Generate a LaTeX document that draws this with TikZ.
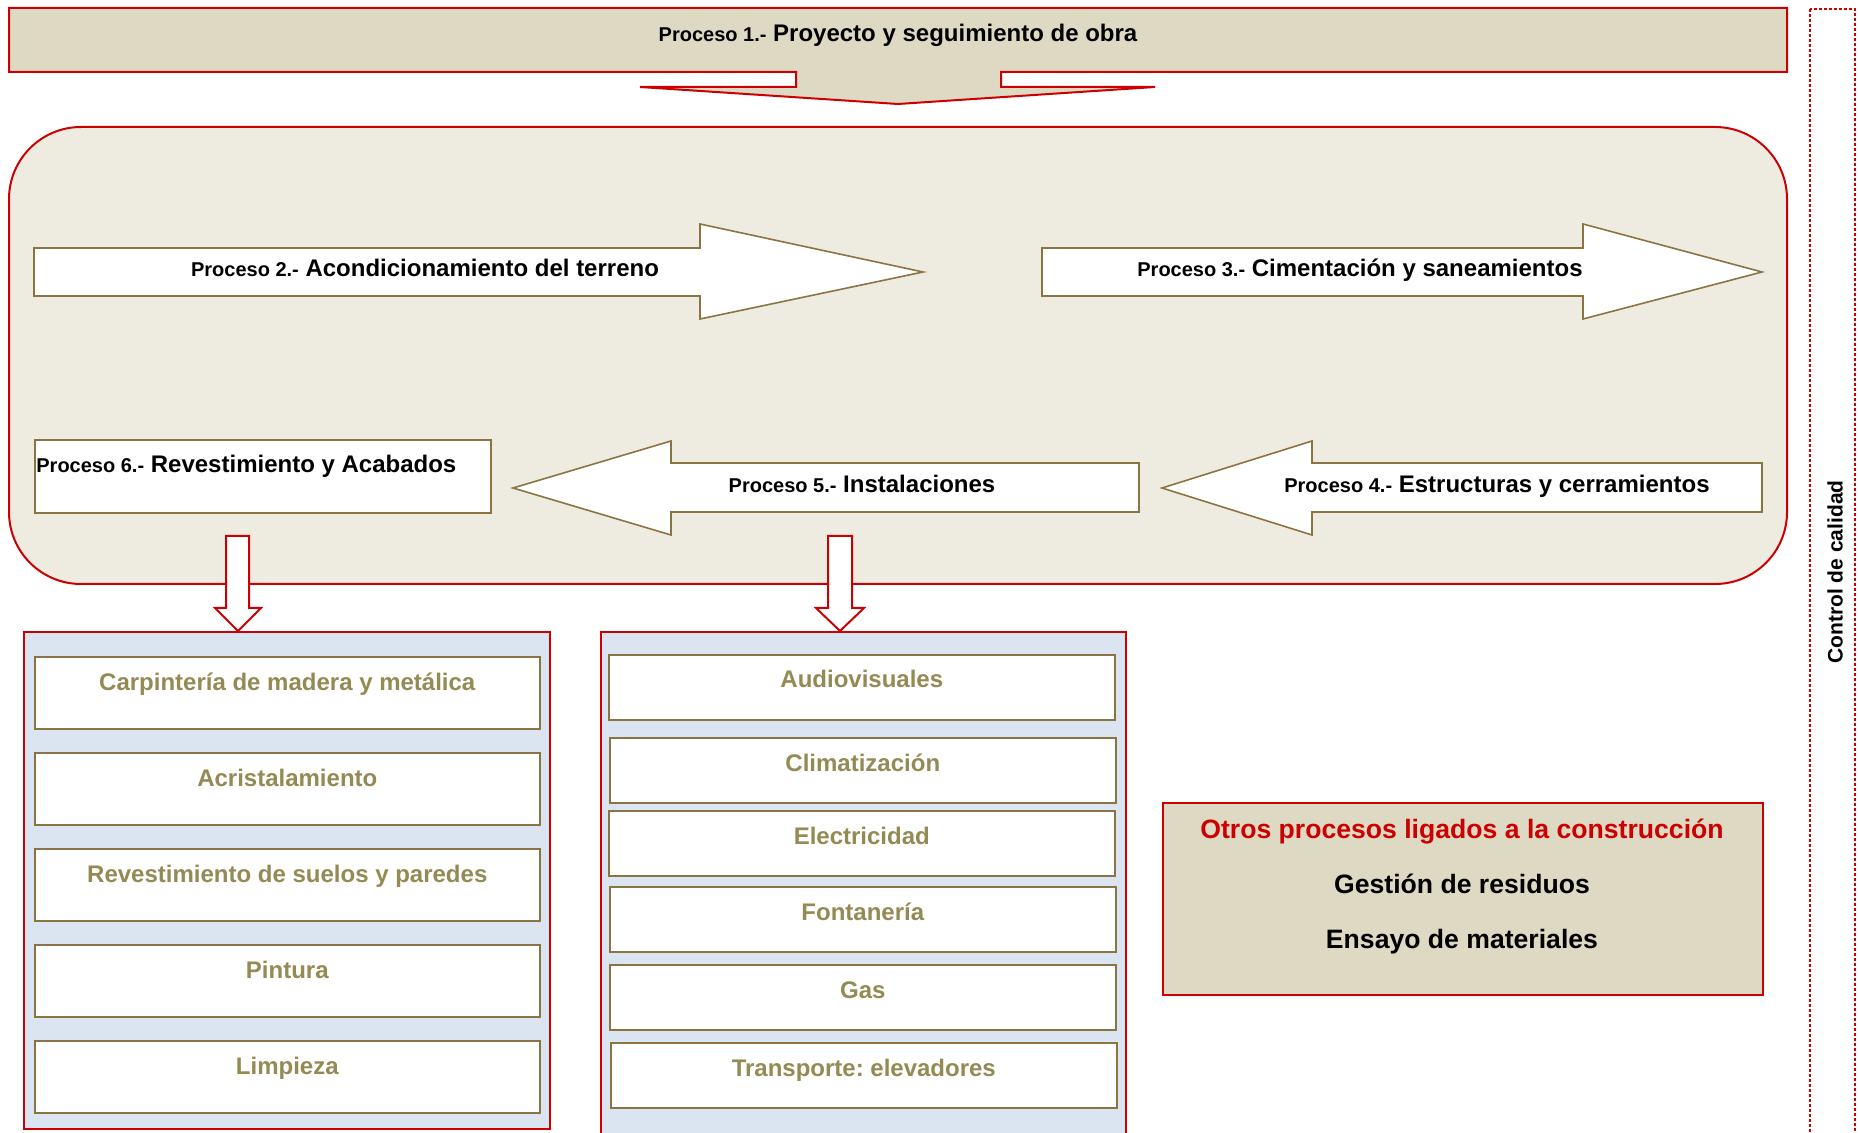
\documentclass[tikz,border=0pt]{standalone}
\usepackage{fontspec}
\setmainfont{Liberation Sans}
\usetikzlibrary{positioning}
\frenchspacing

\definecolor{redline}{RGB}{204,0,0}
\definecolor{tanfill}{RGB}{221,217,195}
\definecolor{panelfill}{RGB}{238,236,225}
\definecolor{listfill}{RGB}{219,229,241}
\definecolor{brownline}{RGB}{140,116,66}
\definecolor{olivetext}{RGB}{148,138,84}

\newcommand{\proclabel}[2]{{\fontsize{10}{12}\selectfont Proceso #1.-} #2}

\tikzset{
  tanshape/.style={draw=redline, fill=tanfill, line width=1pt},
  panelshape/.style={draw=redline, fill=panelfill, line width=1pt, rounded corners=36pt},
  listshape/.style={draw=redline, fill=listfill, line width=1pt},
  procarrow/.style={draw=brownline, fill=white, line width=0.8pt},
  downarrow/.style={draw=redline, fill=white, line width=1pt},
  proctext/.style={font=\bfseries\fontsize{12}{14}\selectfont, inner sep=0pt, anchor=base},
  itembox/.style={draw=brownline, fill=white, line width=0.8pt, anchor=north west, inner sep=0pt},
  itemtext/.style={font=\bfseries\fontsize{12}{14}\selectfont, text=olivetext, inner sep=0pt, anchor=base},
  othertext/.style={font=\bfseries\fontsize{13.3}{16}\selectfont, inner sep=0pt, anchor=base},
  qualityline/.style={draw=redline, line width=0.8pt, dash pattern=on 1.5pt off 1pt}
}

\begin{document}
\begin{tikzpicture}[x=0.5pt, y=-0.5pt]
\useasboundingbox (0,0) rectangle (1858,1133);

% proceso 1 with its arrow
\draw[tanshape] (9,8) -- (1787,8) -- (1787,72) -- (1001,72) -- (1001,87) -- (1155,87)
  -- (898,104) -- (640,87) -- (796,87) -- (796,72) -- (9,72) -- cycle;
\node[proctext] (p1) at (898,42) {\proclabel{1}{Proyecto y seguimiento de obra}};

% main panel
\draw[panelshape] (9,127) rectangle (1787,584);

\draw[procarrow] (34,248) -- (700,248) -- (700,224) -- (923,272) -- (700,319) -- (700,296) -- (34,296) -- cycle;
\node[proctext] (p2) at (425,277) {\proclabel{2}{Acondicionamiento del terreno}};

\draw[procarrow] (1042,248) -- (1583,248) -- (1583,224) -- (1762,272) -- (1583,319) -- (1583,296) -- (1042,296) -- cycle;
\node[proctext] (p3) at (1360,277) {\proclabel{3}{Cimentación y saneamientos}};

\draw[procarrow] (1762,463) -- (1312,463) -- (1312,441) -- (1162,488) -- (1312,535) -- (1312,512) -- (1762,512) -- cycle;
\node[proctext] (p4) at (1497,493) {\proclabel{4}{Estructuras y cerramientos}};

\draw[procarrow] (1139,463) -- (671,463) -- (671,441) -- (513,488) -- (671,535) -- (671,512) -- (1139,512) -- cycle;
\node[proctext] (p5) at (862,493) {\proclabel{5}{Instalaciones}};

\node[itembox, minimum width=228pt, minimum height=36.5pt] (p6box) at (34,439) {};
\node[proctext, anchor=base west] (p6) at (36,473) {\proclabel{6}{Revestimiento y Acabados}};

% down arrows
\draw[downarrow] (226,536) -- (249,536) -- (249,608) -- (261,608) -- (238,631) -- (215,608) -- (226,608) -- cycle;
\draw[downarrow] (828,536) -- (852,536) -- (852,608) -- (864,608) -- (840,631) -- (816,608) -- (828,608) -- cycle;

% lists
\draw[listshape] (24,632) rectangle (550,1129);
\draw[listshape] (601,632) rectangle (1126,1145);

\foreach \i/\t/\txt in {1/656/Carpintería de madera y metálica, 2/752/Acristalamiento,
    3/848/Revestimiento de suelos y paredes, 4/944/Pintura, 5/1040/Limpieza} {
  \node[itembox, minimum width=252.5pt, minimum height=36pt] (a\i) at (34,\t) {};
  \node[itemtext] (a\i t) at ([yshift=-17pt]a\i.north) {\txt};
}

\foreach \i/\x/\t/\txt in {1/608/654/Audiovisuales, 2/609/737/Climatización,
    3/608/810/Electricidad, 4/609/886/Fontanería, 5/609/964/Gas,
    6/610/1042/Transporte: elevadores} {
  \node[itembox, minimum width=253pt, minimum height=32.5pt] (b\i) at (\x,\t) {};
  \node[itemtext] (b\i t) at ([yshift=-17pt]b\i.north) {\txt};
}

% otros procesos
\node[itembox, draw=redline, fill=tanfill, line width=1pt, minimum width=300pt, minimum height=96pt] (other) at (1162,802) {};
\node[othertext, text=redline] (other1) at (1462,838) {Otros procesos ligados a la construcción};
\node[othertext] (other2) at (1462,893) {Gestión de residuos};
\node[othertext] (other3) at (1462,948) {Ensayo de materiales};

% control de calidad
\draw[qualityline] (1810,9) rectangle (1855,1145);
\node[font=\bfseries\fontsize{10.5}{12}\selectfont, rotate=90, inner sep=0pt] (qc) at (1835,572) {Control de calidad};

\end{tikzpicture}
\end{document}
